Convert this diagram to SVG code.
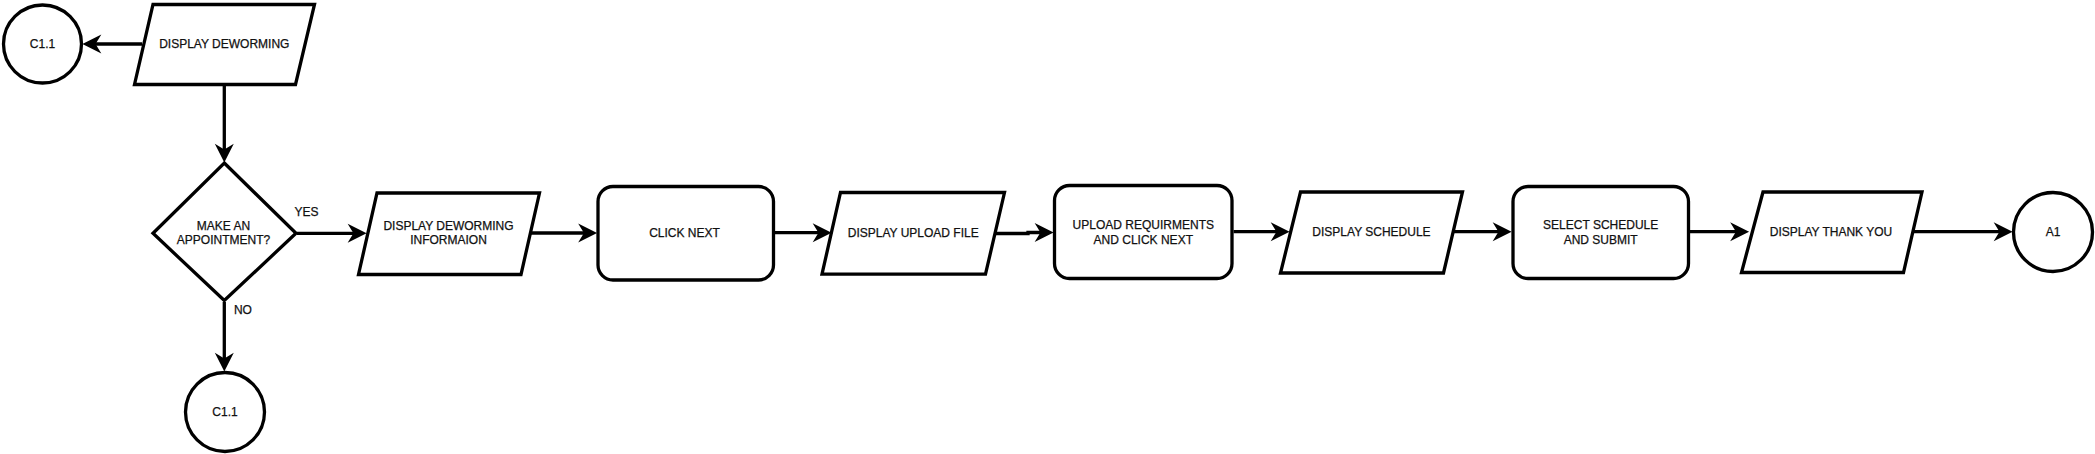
<svg xmlns="http://www.w3.org/2000/svg" width="2095" height="454" viewBox="0 0 2095 454">
<defs>
<marker id="arr" markerUnits="userSpaceOnUse" markerWidth="20" markerHeight="20" viewBox="0 0 19 19" refX="7" refY="9.5" orient="auto">
<path d="M0.5,0.5 L18.5,9.5 L0.5,18.5 L6,9.5 Z" fill="#000"/>
</marker>
</defs>
<style>
.s{fill:#fff;stroke:#000;stroke-width:3.3;stroke-linejoin:miter}
.c{fill:none;stroke:#000;stroke-width:3.3;marker-end:url(#arr)}
text{font-family:"Liberation Sans",Arial,sans-serif;font-size:12px;fill:#111;stroke:#111;stroke-width:0.25;text-anchor:middle}
</style>
<rect width="2095" height="454" fill="#fff"/>
<g id="connectors">
<path class="c" d="M142 44 L94.5 44"/>
<path class="c" d="M224.3 86 L224.3 150.5"/>
<path class="c" d="M297 233.3 L354.5 233.3"/>
<path class="c" d="M224.3 302 L224.3 359.5"/>
<path class="c" d="M530 233 L585 233"/>
<path class="c" d="M775 232.7 L819.5 232.7"/>
<path class="c" d="M996 233.5 L1028 233.5 L1028 232.5 L1041.5 232.5"/>
<path class="c" d="M1233.6 231.7 L1277.5 231.7"/>
<path class="c" d="M1454 231.7 L1499.5 231.7"/>
<path class="c" d="M1690 231.7 L1737 231.7"/>
<path class="c" d="M1913 231.7 L2000.5 231.7"/>
<text x="306.4" y="216.3">YES</text>
<text x="242.9" y="314.3">NO</text>
</g>
<g id="c11_top">
<circle class="s" cx="42.5" cy="44" r="39"/>
<text x="42.5" y="48.3">C1.1</text>
</g>
<g id="display_deworming">
<polygon class="s" points="153,4.5 314.5,4.5 295.5,84.5 134.5,84.5"/>
<text x="224.3" y="47.6">DISPLAY DEWORMING</text>
</g>
<g id="decision">
<polygon class="s" points="224.3,163 296,233.3 224.3,300.5 153,233.3"/>
<text x="223.5" y="230">MAKE AN</text>
<text x="223.5" y="244.3">APPOINTMENT?</text>
</g>
<g id="c11_bottom">
<circle class="s" cx="225" cy="412" r="39.5"/>
<text x="225" y="416">C1.1</text>
</g>
<g id="display_info">
<polygon class="s" points="377,193 539.5,193 521,274.5 358.5,274.5"/>
<text x="448.5" y="230">DISPLAY DEWORMING</text>
<text x="448.5" y="244.3">INFORMAION</text>
</g>
<g id="click_next">
<rect class="s" x="598" y="186.5" width="175.5" height="93.5" rx="15"/>
<text x="684.5" y="236.7">CLICK NEXT</text>
</g>
<g id="display_upload">
<polygon class="s" points="840.5,192.5 1004.5,192.5 985.5,274.2 822,274.2"/>
<text x="913.2" y="237">DISPLAY UPLOAD FILE</text>
</g>
<g id="upload_req">
<rect class="s" x="1054.5" y="185.5" width="177.5" height="93" rx="15"/>
<text x="1143.3" y="229.3">UPLOAD REQUIRMENTS</text>
<text x="1143.3" y="244.3">AND CLICK NEXT</text>
</g>
<g id="display_schedule">
<polygon class="s" points="1300.5,192 1462.5,192 1443.5,273 1280.5,273"/>
<text x="1371.5" y="236">DISPLAY SCHEDULE</text>
</g>
<g id="select_schedule">
<rect class="s" x="1513" y="186.5" width="175.5" height="92" rx="15"/>
<text x="1600.7" y="228.6">SELECT SCHEDULE</text>
<text x="1600.7" y="244.3">AND SUBMIT</text>
</g>
<g id="display_thanks">
<polygon class="s" points="1763,192 1922,192 1903.5,272.5 1741.5,272.5"/>
<text x="1831" y="236">DISPLAY THANK YOU</text>
</g>
<g id="a1">
<circle class="s" cx="2053" cy="232" r="39.5"/>
<text x="2053" y="236">A1</text>
</g>
</svg>
